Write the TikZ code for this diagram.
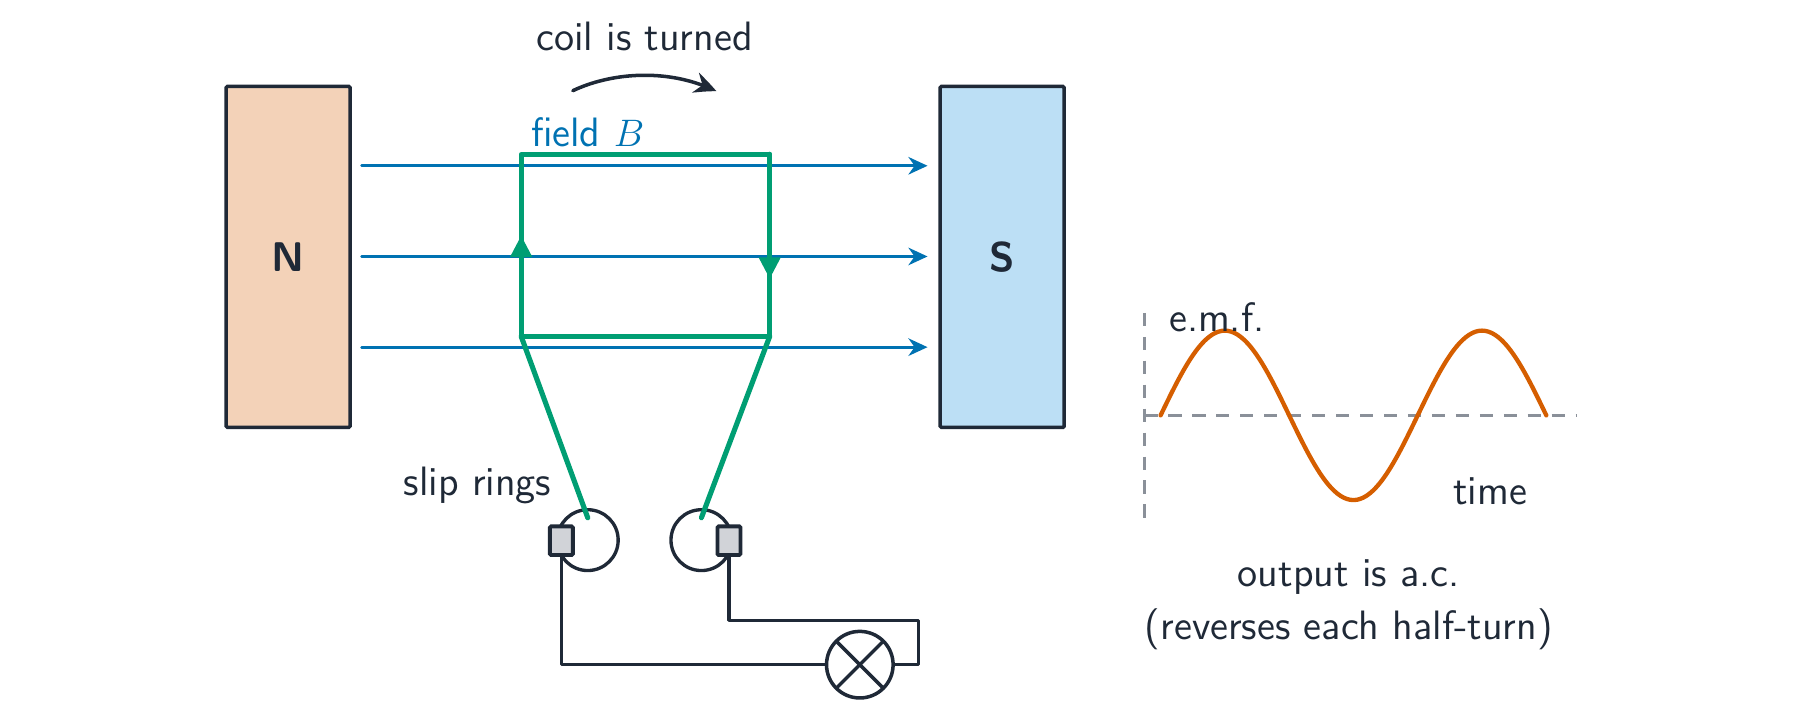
\documentclass[tikz,border=0pt]{standalone}
\usetikzlibrary{arrows.meta,bending}
\definecolor{ink}{HTML}{1F2937}
\definecolor{coilc}{HTML}{009E73}
\definecolor{fieldc}{HTML}{0072B2}
\definecolor{wavec}{HTML}{D55E00}
\definecolor{nfill}{HTML}{F3D2B8}
\definecolor{sfill}{HTML}{BCDFF5}
\definecolor{axisc}{HTML}{8A9099}
\definecolor{brush}{HTML}{D1D3D8}
\tikzset{
  x=0.01263cm,y=-0.01263cm,
  every node/.style={font=\sffamily\fontsize{12.85}{15}\selectfont,text=ink,inner sep=0pt,outer sep=0pt},
  magnet/.style={draw=ink,line width=1.1pt,rounded corners=0.4pt,minimum width=108*0.01263cm,minimum height=297*0.01263cm,font=\sffamily\bfseries\fontsize{13}{16}\selectfont},
  fieldline/.style={draw=fieldc,line width=0.85pt,line cap=round,-{Stealth[length=6pt,width=5.5pt]}},
  coilwire/.style={draw=coilc,line width=1.6pt,line cap=round,line join=round},
  coilhead/.style={coilwire,-{Triangle[length=6.8pt,width=6.5pt,sep=0pt]}},
  wire/.style={draw=ink,line width=1.1pt,line join=round},
  ring/.style={circle,draw=ink,line width=1.05pt,minimum size=53*0.01263cm},
  brushbox/.style={draw=ink,fill=brush,line width=1.2pt,rounded corners=0.4pt,minimum width=20*0.01263cm,minimum height=25*0.01263cm},
  axisline/.style={draw=axisc,line width=0.8pt,dash pattern=on 4.1pt off 3.4pt},
}
\begin{document}
\begin{tikzpicture}
\useasboundingbox (0,0) rectangle (1568,617.6);
\node[magnet,fill=nfill] (N) at (251,223.8) {N};
\node[magnet,fill=sfill] (S) at (873,223.8) {S};
\node[text=fieldc] (fieldlabel) at (512,115) {field $B$};
\node (turnlabel) at (561.5,32) {coil is turned};
\coordinate (fa1) at (315,144.4); \coordinate (fb1) at (808,144.4);
\coordinate (fa2) at (315,223.4); \coordinate (fb2) at (808,223.4);
\coordinate (fa3) at (315,302.4); \coordinate (fb3) at (808,302.4);
\draw[fieldline] (fa1) -- (fb1);
\draw[fieldline] (fa2) -- (fb2);
\draw[fieldline] (fa3) -- (fb3);
\coordinate (ctl) at (454,134.4); \coordinate (ctr) at (670.5,134.4);
\coordinate (cbl) at (454,293); \coordinate (cbr) at (670.5,293);
\coordinate (cml) at (454,205); \coordinate (cmr) at (670.5,243);
\draw[coilwire] (ctl) -- (ctr) -- (cbr) -- (cbl) -- cycle;
\draw[coilhead] (cbl) -- (cml);
\draw[coilhead] (ctr) -- (cmr);
\coordinate (ta) at (499,79); \coordinate (tb) at (624,79.5);
\draw[draw=ink,line width=1.1pt,line cap=round,-{Stealth[length=7pt,width=6.5pt,bend]}] (ta) .. controls (535,62) and (585,60) .. (tb);
\node[ring] (ringL) at (512,470.5) {};
\node[ring] (ringR) at (611,470.5) {};
\coordinate (leadL) at (512,451); \coordinate (leadR) at (611,451);
\draw[coilwire] (cbl) -- (leadL);
\draw[coilwire] (cbr) -- (leadR);
\node[brushbox] (brL) at (489,471) {};
\node[brushbox] (brR) at (635,471) {};
\node (sliplabel) at (416,423) {slip rings};
\node[circle,draw=ink,line width=1.1pt,minimum size=58*0.01263cm] (lamp) at (749,579) {};
\draw[wire] (lamp.45) -- (lamp.225);
\draw[wire] (lamp.135) -- (lamp.315);
\draw[wire] (brL.south) -- (brL.south |- lamp.west) -- (lamp.west);
\coordinate (wireturn) at (800,540.3);
\draw[wire] (brR.south) |- (wireturn) -- (wireturn |- lamp.east) -- (lamp.east);
\coordinate (ay1) at (997,272.5); \coordinate (ay2) at (997,451.5);
\coordinate (ax1) at (997,361.8); \coordinate (ax2) at (1373,361.8);
\draw[axisline] (ay1) -- (ay2);
\draw[axisline] (ax1) -- (ax2);
\draw[draw=wavec,line width=1.35pt,line cap=round,line join=round]
  plot[smooth,domain=0:336,samples=121] ({1011+\x},{361.8-73.8*sin(\x/112*180)});
\node (emf) at (1060,276) {e.m.f.};
\node (timelabel) at (1298,428) {time};
\node (out1) at (1175,503) {output is a.c.};
\node (out2) at (1175,548.5) {(reverses each half-turn)};
\end{tikzpicture}
\end{document}
